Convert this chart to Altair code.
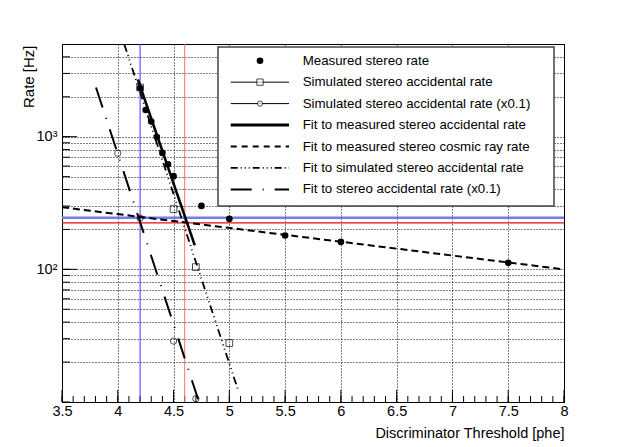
import altair as alt
import pandas as pd

# ---------------- data ----------------
# Measured stereo rate (filled circles)
meas_x = [4.2, 4.25, 4.3, 4.35, 4.4, 4.45, 4.5, 4.75, 5.0, 5.5, 6.0, 7.5]
meas_y = [2330, 1590, 1300, 995, 755, 620, 504, 301, 240, 180, 161, 112]
# Simulated stereo accidental rate (open squares)
sim_x = [4.2, 4.5, 4.7, 5.0]
sim_y = [2350, 285, 104, 27.8]
# Simulated stereo accidental rate (x0.1) (open circles)
sim01_x = [4.0, 4.2, 4.5, 4.7]
sim01_y = [750, 243, 28.8, 10.6]
# Fit curves (exponentials -> straight on log axis), end points
fit_meas_x = [4.18, 4.69]
fit_meas_y = [2700, 152]
fit_cosmic_x = [3.5, 8.0]
fit_cosmic_y = [294, 100]
fit_sim_x = [4.058, 5.081]
fit_sim_y = [4980, 12.1]
fit_sim01_x = [3.805, 4.72]
fit_sim01_y = [2350, 10.5]
# Reference lines
vline_blue = [4.2]
vline_red = [4.6]
hline_blue = [245]
hline_red = [224]

# Axis ticks
x_major = [3.5, 4, 4.5, 5, 5.5, 6, 6.5, 7, 7.5, 8]
x_minor = [round(3.5 + 0.1 * i, 2) for i in range(46)]
y_major = [100, 1000]
y_grid = [10, 20, 30, 40, 50, 60, 70, 80, 90,
          100, 200, 300, 400, 500, 600, 700, 800, 900,
          1000, 2000, 3000, 4000]

legend_labels = [
    "Measured stereo rate",
    "Simulated stereo accidental rate",
    "Simulated stereo accidental rate (x0.1)",
    "Fit to measured stereo accidental rate",
    "Fit to measured stereo cosmic ray rate",
    "Fit to simulated stereo accidental rate",
    "Fit to stereo accidental rate (x0.1)",
]

# ---------------- styling ----------------
FONT = "Liberation Sans"
W, H = 502, 358
DASH_COSMIC = [7, 4]
DASH_SIM = [8, 3.5, 1, 3.5, 1, 3.5, 1, 3.5]
DASH_SIM01 = [21, 11, 1, 11]

xscale = alt.Scale(domain=[3.5, 8], nice=False, zero=False)
yscale = alt.Scale(type="log", domain=[10, 5000], nice=False)

xaxis = alt.Axis(
    values=x_major, format="~g", grid=True, gridDash=[1, 2], gridColor="#000",
    gridOpacity=1, gridWidth=1, ticks=False, domain=False,
    labelFont=FONT, labelFontSize=14.5, labelColor="#000", labelPadding=2,
    labelFlush=False, labelOverlap=False,
    title="Discriminator Threshold [phe]", titleFont=FONT, titleFontSize=14.5,
    titleFontWeight="normal", titleColor="#000", titleAnchor="end",
    titleAlign="right", titleBaseline="alphabetic", titleX=W, titleY=35,
)
yaxis = alt.Axis(
    values=y_grid, grid=True, gridDash=[1, 2], gridColor="#000",
    gridOpacity=1, gridWidth=1, ticks=False, domain=False,
    labelExpr="datum.value == 100 ? '10²' : (datum.value == 1000 ? '10³' : '')",
    labelFont=FONT, labelFontSize=14.5, labelColor="#000", labelPadding=5,
    labelOverlap=False, labelBaseline="middle",
    title="Rate [Hz]", titleFont=FONT, titleFontSize=15,
    titleFontWeight="normal", titleColor="#000", titleAngle=270,
    titleAlign="right", titleBaseline="middle", titleX=-34, titleY=1,
)


def X(f="x"):
    return alt.X(f"{f}:Q", scale=xscale, axis=xaxis)


def Y(f="y"):
    return alt.Y(f"{f}:Q", scale=yscale, axis=yaxis)


def df(xs, ys):
    return pd.DataFrame({"x": xs, "y": ys})


layers = []

# base layer carrying the axes (invisible points)
layers.append(
    alt.Chart(df(meas_x, meas_y)).mark_point(opacity=0).encode(x=X(), y=Y())
)

# inward tick marks
layers.append(alt.Chart(pd.DataFrame({"x": x_minor})).mark_rule(color="#000", strokeWidth=1)
              .encode(x=X(), y=alt.value(H), y2=alt.value(H - 6)))
layers.append(alt.Chart(pd.DataFrame({"x": x_major})).mark_rule(color="#000", strokeWidth=1)
              .encode(x=X(), y=alt.value(H), y2=alt.value(H - 12)))
layers.append(alt.Chart(pd.DataFrame({"y": y_grid})).mark_rule(color="#000", strokeWidth=1)
              .encode(y=Y(), x=alt.value(0), x2=alt.value(8)))
layers.append(alt.Chart(pd.DataFrame({"y": y_major})).mark_rule(color="#000", strokeWidth=1)
              .encode(y=Y(), x=alt.value(0), x2=alt.value(15)))

# reference lines
layers.append(alt.Chart(pd.DataFrame({"y": hline_blue})).mark_rule(color="#7878f0", strokeWidth=2.5)
              .encode(y=Y()))
layers.append(alt.Chart(pd.DataFrame({"y": hline_red})).mark_rule(color="#dd1111", strokeWidth=1.2)
              .encode(y=Y()))
layers.append(alt.Chart(pd.DataFrame({"x": vline_blue})).mark_rule(color="#3a3aff", strokeWidth=1)
              .encode(x=X()))
layers.append(alt.Chart(pd.DataFrame({"x": vline_red})).mark_rule(color="#ff6a6a", strokeWidth=1)
              .encode(x=X()))

# fit lines
layers.append(alt.Chart(df(fit_cosmic_x, fit_cosmic_y)).mark_line(
    color="#000", strokeWidth=2, strokeDash=DASH_COSMIC, clip=True).encode(x=X(), y=Y()))
layers.append(alt.Chart(df(fit_sim_x, fit_sim_y)).mark_line(
    color="#000", strokeWidth=1.8, strokeDash=DASH_SIM, clip=True).encode(x=X(), y=Y()))
layers.append(alt.Chart(df(fit_sim01_x, fit_sim01_y)).mark_line(
    color="#000", strokeWidth=2, strokeDash=DASH_SIM01, clip=True).encode(x=X(), y=Y()))
layers.append(alt.Chart(df(fit_meas_x, fit_meas_y)).mark_line(
    color="#000", strokeWidth=2.5, clip=True).encode(x=X(), y=Y()))

# data points
layers.append(alt.Chart(df(sim_x, sim_y)).mark_point(
    shape="square", filled=False, size=45, color="#000", strokeWidth=1, clip=True)
    .encode(x=X(), y=Y()))
layers.append(alt.Chart(df(sim01_x, sim01_y)).mark_point(
    shape="circle", filled=False, size=40, color="#000", strokeWidth=1, clip=True)
    .encode(x=X(), y=Y()))
layers.append(alt.Chart(df(meas_x, meas_y)).mark_point(
    shape="circle", filled=True, size=44, color="#000", opacity=1, clip=True)
    .encode(x=X(), y=Y()))

# ---------------- legend ----------------
one = pd.DataFrame({"a": [0]})
LX0, LX1, LY0, LY1 = 156, 492, 3, 162
layers.append(alt.Chart(one).mark_rect(fill="white", stroke="#444", strokeWidth=1.5)
              .encode(x=alt.value(LX0), x2=alt.value(LX1), y=alt.value(LY0), y2=alt.value(LY1)))

SX0, SX1, SM, TX = 168.7, 227, 198, 240.7
row_y = [16.7 + 21.45 * i for i in range(7)]

for i, lab in enumerate(legend_labels):
    ry = row_y[i]
    layers.append(alt.Chart(one).mark_text(
        text=lab, align="left", baseline="middle", font=FONT, fontSize=13.3, color="#000")
        .encode(x=alt.value(TX), y=alt.value(ry)))

# row 0: filled circle
layers.append(alt.Chart(one).mark_point(shape="circle", filled=True, size=44, color="#000", opacity=1)
              .encode(x=alt.value(SM), y=alt.value(row_y[0])))
# row 1: line + square
layers.append(alt.Chart(one).mark_rule(color="#000", strokeWidth=1)
              .encode(x=alt.value(SX0), x2=alt.value(SX1), y=alt.value(row_y[1])))
layers.append(alt.Chart(one).mark_point(shape="square", filled=True, fill="white", size=40,
                                        stroke="#000", strokeWidth=1)
              .encode(x=alt.value(SM), y=alt.value(row_y[1])))
# row 2: line + circle
layers.append(alt.Chart(one).mark_rule(color="#000", strokeWidth=1)
              .encode(x=alt.value(SX0), x2=alt.value(SX1), y=alt.value(row_y[2])))
layers.append(alt.Chart(one).mark_point(shape="circle", filled=True, fill="white", size=28,
                                        stroke="#000", strokeWidth=1)
              .encode(x=alt.value(SM), y=alt.value(row_y[2])))
# row 3: solid thick
layers.append(alt.Chart(one).mark_rule(color="#000", strokeWidth=3)
              .encode(x=alt.value(SX0), x2=alt.value(SX1), y=alt.value(row_y[3])))
# row 4: dashed
layers.append(alt.Chart(one).mark_rule(color="#000", strokeWidth=2, strokeDash=[6, 5])
              .encode(x=alt.value(SX0), x2=alt.value(SX1), y=alt.value(row_y[4])))
# row 5: dash-dot-dot-dot
layers.append(alt.Chart(one).mark_rule(color="#000", strokeWidth=1.8, strokeDash=[7, 3, 1, 3, 1, 3, 1, 3])
              .encode(x=alt.value(SX0), x2=alt.value(SX1), y=alt.value(row_y[5])))
# row 6: long dash - dot
layers.append(alt.Chart(one).mark_rule(color="#000", strokeWidth=2, strokeDash=DASH_SIM01)
              .encode(x=alt.value(SX0), x2=alt.value(SX1), y=alt.value(row_y[6])))

chart = alt.layer(*layers).properties(
    width=W, height=H,
    padding={"left": 54, "top": 36, "right": 51, "bottom": 45},
    autosize=alt.AutoSizeParams(type="none"),
    background="white",
).configure_view(stroke="#000", strokeWidth=1)

chart.save("out.html", embed_options={"renderer": "svg", "actions": False})
